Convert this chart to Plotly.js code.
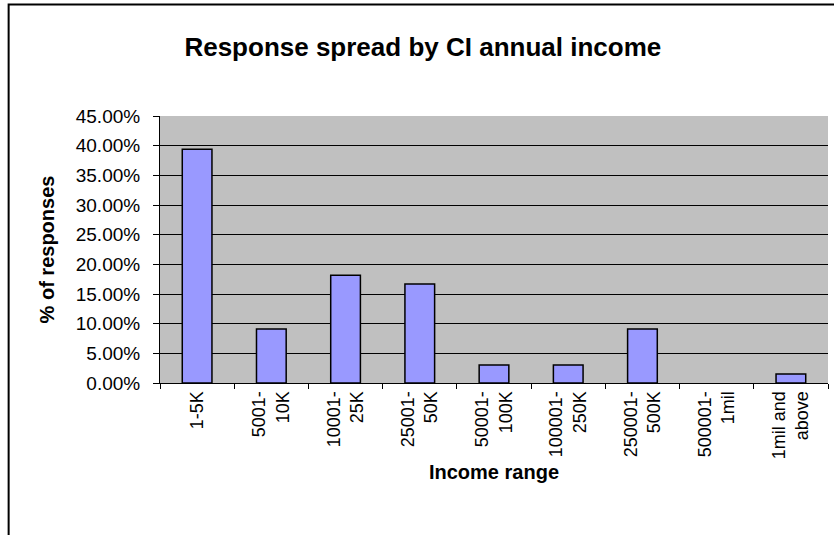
<!DOCTYPE html>
<html>
<head>
<meta charset="utf-8">
<script src="https://cdn.plot.ly/plotly-3.0.1.min.js"></script>
<style>
  html, body { margin: 0; padding: 0; background: #ffffff; }
  #chart { width: 834px; height: 535px; }
</style>
</head>
<body>
<div id="chart"></div>
<script>
// Income bands (two-line labels) and share of responses in each band
const incomeRanges = [
  "1-5K",
  "5001-<br>10K",
  "10001-<br>25K",
  "25001-<br>50K",
  "50001-<br>100K",
  "100001-<br>250K",
  "250001-<br>500K",
  "500001-<br>1mil",
  "1mil and<br>above"
];
const responseShare = [0.3939, 0.0909, 0.1818, 0.1667, 0.0303, 0.0303, 0.0909, 0, 0.0152];
const yTickValues = [0, 0.05, 0.10, 0.15, 0.20, 0.25, 0.30, 0.35, 0.40, 0.45];
const yTickLabels = ["0.00%", "5.00%", "10.00%", "15.00%", "20.00%", "25.00%", "30.00%", "35.00%", "40.00%", "45.00%"];

const fontFamily = "Liberation Sans, Arial, sans-serif";

// Empty bands get no outline so nothing is drawn on the baseline
const outlineWidths = responseShare.map(v => (v > 0 ? 1.5 : 0));

const trace = {
  type: "bar",
  x: incomeRanges,
  y: responseShare,
  marker: { color: "#9999FF", line: { color: "#000000", width: outlineWidths } },
  hoverinfo: "x+y"
};

const layout = {
  width: 834,
  height: 535,
  margin: { l: 160, r: 6, t: 116, b: 152, pad: 0 },
  paper_bgcolor: "#ffffff",
  plot_bgcolor: "#C0C0C0",
  showlegend: false,
  bargap: 0.6,
  font: { family: fontFamily, color: "#000000", size: 18 },
  title: {
    text: "<b>Response spread by CI annual income</b>",
    font: { family: fontFamily, size: 26, color: "#000000" },
    x: 0.507, xanchor: "center",
    y: 0.912, yanchor: "middle"
  },
  xaxis: {
    type: "category",
    tickangle: -90,
    tickson: "boundaries",
    ticks: "outside",
    ticklen: 5,
    tickcolor: "#000000",
    showline: true,
    linecolor: "#000000",
    linewidth: 1,
    showgrid: false,
    tickfont: { family: fontFamily, size: 18, color: "#000000" },
    title: {
      text: "<b>Income range</b>",
      font: { family: fontFamily, size: 20, color: "#000000" },
      standoff: 6
    }
  },
  yaxis: {
    range: [0, 0.45],
    tickvals: yTickValues,
    ticktext: yTickLabels,
    ticks: "outside",
    ticklen: 6,
    tickcolor: "#000000",
    ticklabelstandoff: 9,
    showline: true,
    linecolor: "#000000",
    linewidth: 1,
    showgrid: true,
    gridcolor: "#000000",
    gridwidth: 1,
    zeroline: false,
    tickfont: { family: fontFamily, size: 19, color: "#000000" },
    title: {
      text: "<b>% of responses</b>",
      font: { family: fontFamily, size: 20, color: "#000000" },
      standoff: 15
    }
  },
  shapes: [
    {
      type: "rect", xref: "paper", yref: "paper",
      x0: -0.2266, x1: 1.05, y0: -0.8, y1: 1.4176,
      line: { color: "#000000", width: 2 },
      fillcolor: "rgba(0,0,0,0)",
      layer: "above"
    }
  ]
};

Plotly.newPlot("chart", [trace], layout, { displayModeBar: false, staticPlot: true });
</script>
</body>
</html>
